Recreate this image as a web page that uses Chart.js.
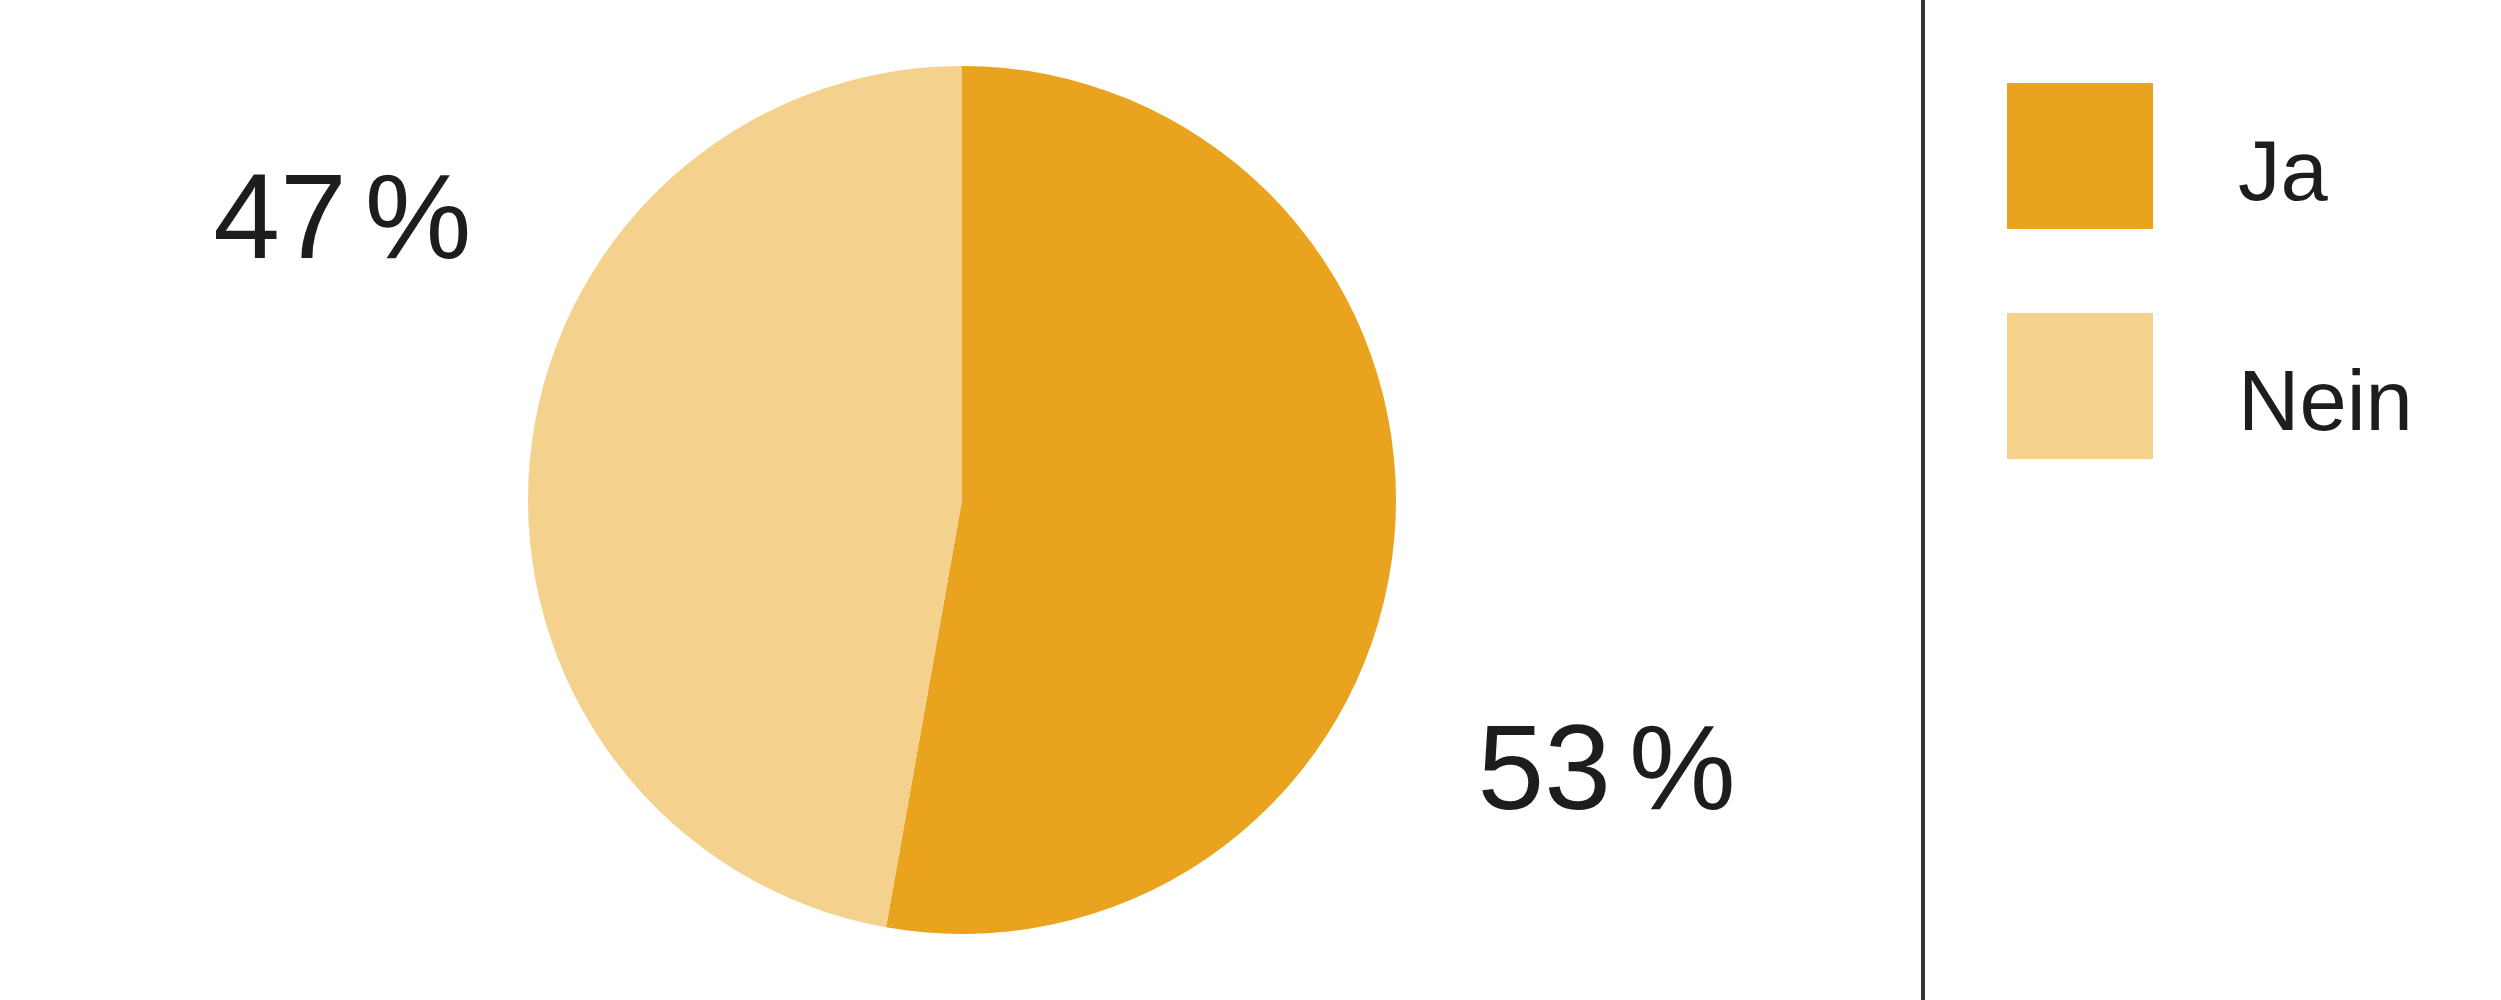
<!DOCTYPE html>
<html>
<head>
<meta charset="utf-8">
<script src="https://cdn.jsdelivr.net/npm/chart.js@4/dist/chart.umd.min.js"></script>
<style>
  html, body { margin: 0; padding: 0; background: #fff; overflow: hidden; }
  #wrap { position: relative; width: 2501px; height: 1000px; }
  #wrap canvas { display: block; }
</style>
</head>
<body>
<div id="wrap"><canvas id="pieChart"></canvas></div>
<script>
// data (slice sizes, labels as printed)
const categories = ['Ja', 'Nein'];
const shares = [52.8, 47.2];
const valueLabels = ['53 %', '47 %'];
const sliceColors = ['#E9A31E', '#F5D18E'];

const textColor = '#1d1d1b';
const fontFamily = '"Liberation Sans", Arial, sans-serif';

// percent labels outside the slices, placed relative to the pie radius
const percentLabels = {
    id: 'percentLabels',
    afterDatasetsDraw(chart) {
        const ctx = chart.ctx;
        const meta = chart.getDatasetMeta(0);
        ctx.save();
        ctx.fillStyle = textColor;
        ctx.font = '120px ' + fontFamily;
        ctx.textBaseline = 'alphabetic';
        ctx.textAlign = 'left';
        const offsets = [[1.485, 0.712], [-1.428, -0.558]];
        const gap = 18;
        meta.data.forEach((arc, i) => {
            const p = arc.getProps(['x', 'y', 'outerRadius'], true);
            const parts = valueLabels[i].split(' ');
            const w0 = ctx.measureText(parts[0]).width;
            const w1 = ctx.measureText(parts[1]).width;
            const total = w0 + gap + w1;
            const cx = p.x + offsets[i][0] * p.outerRadius;
            const by = p.y + offsets[i][1] * p.outerRadius;
            const x0 = cx - total / 2;
            ctx.fillText(parts[0], x0, by);
            ctx.fillText(parts[1], x0 + w0 + gap, by);
        });
        ctx.restore();
    }
};

// separator line and legend on the right
const sideLegend = {
    id: 'sideLegend',
    afterDraw(chart) {
        const ctx = chart.ctx;
        ctx.save();
        ctx.fillStyle = '#333333';
        ctx.fillRect(1921, 0, 4, chart.height);
        ctx.font = '85px ' + fontFamily;
        ctx.textBaseline = 'alphabetic';
        ctx.textAlign = 'left';
        categories.forEach((cat, i) => {
            const top = 83 + i * 230;
            ctx.fillStyle = sliceColors[i];
            ctx.fillRect(2007, top, 146, 146);
            ctx.fillStyle = textColor;
            ctx.fillText(cat, 2238, top + 117);
        });
        ctx.restore();
    }
};

new Chart(document.getElementById('pieChart'), {
    type: 'pie',
    data: {
        labels: categories,
        datasets: [{
            data: shares,
            backgroundColor: sliceColors,
            borderWidth: 0,
            hoverOffset: 0
        }]
    },
    options: {
        responsive: true,
        maintainAspectRatio: false,
        animation: false,
        layout: {
            padding: { left: 528, right: 1105, top: 66, bottom: 66 }
        },
        plugins: {
            legend: { display: false },
            tooltip: { enabled: false }
        }
    },
    plugins: [percentLabels, sideLegend]
});
</script>
</body>
</html>
